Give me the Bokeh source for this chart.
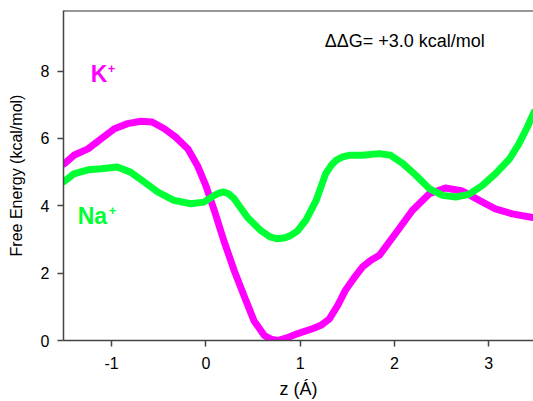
from bokeh.plotting import figure
from bokeh.models import Range1d, Span, Label, FixedTicker
from bokeh.embed import file_html
from bokeh.resources import INLINE

# K+ free energy profile (z in Angstrom, G in kcal/mol)
k_z = [-1.50, -1.40, -1.25, -1.11, -0.97, -0.83, -0.69, -0.57, -0.44, -0.32, -0.19, -0.09,
       0.00, 0.09, 0.19, 0.30, 0.41, 0.51, 0.62, 0.69, 0.76, 0.85, 0.95, 1.13, 1.22, 1.31,
       1.40, 1.48, 1.57, 1.66, 1.75, 1.84, 2.01, 2.19, 2.37, 2.54, 2.72, 2.90, 3.07, 3.25,
       3.45, 3.48]
k_g = [5.25, 5.50, 5.69, 5.99, 6.29, 6.44, 6.51, 6.49, 6.29, 6.04, 5.69, 5.20,
       4.60, 3.86, 2.97, 2.08, 1.29, 0.59, 0.15, 0.04, 0.00, 0.07, 0.18, 0.35, 0.45, 0.64,
       1.05, 1.49, 1.85, 2.18, 2.38, 2.53, 3.17, 3.86, 4.36, 4.53, 4.44, 4.16, 3.91, 3.76,
       3.66, 3.65]

# Na+ free energy profile
na_z = [-1.50, -1.40, -1.25, -1.11, -0.94, -0.80, -0.65, -0.51, -0.34, -0.16, -0.02, 0.09,
        0.14, 0.19, 0.24, 0.30, 0.44, 0.58, 0.68, 0.76, 0.84, 0.90, 0.97, 1.06, 1.17, 1.27,
        1.33, 1.38, 1.45, 1.52, 1.66, 1.84, 1.96, 2.09, 2.23, 2.37, 2.51, 2.65, 2.79, 2.93,
        3.07, 3.22, 3.32, 3.41, 3.48]
na_g = [4.73, 4.95, 5.07, 5.10, 5.15, 5.00, 4.70, 4.41, 4.16, 4.06, 4.11, 4.31,
        4.38, 4.41, 4.36, 4.21, 3.66, 3.27, 3.08, 3.02, 3.05, 3.12, 3.25, 3.57, 4.16, 4.95,
        5.20, 5.35, 5.45, 5.50, 5.50, 5.55, 5.50, 5.25, 4.90, 4.51, 4.31, 4.26, 4.34, 4.60,
        4.95, 5.39, 5.84, 6.34, 6.78]

x_ticks = [-1, 0, 1, 2, 3]
y_ticks = [0, 2, 4, 6, 8]

FONT = "Liberation Sans"

p = figure(width=533, height=401, output_backend="svg", toolbar_location=None,
           x_range=Range1d(-1.51, 3.475), y_range=Range1d(0, 9.8),
           min_border_left=63, min_border_right=0, min_border_top=10, min_border_bottom=61)

p.outline_line_color = None
p.xgrid.grid_line_color = None
p.ygrid.grid_line_color = None
p.background_fill_color = "white"
p.border_fill_color = "white"

p.line(k_z, k_g, line_color="#FF00FF", line_width=7, line_join="round", line_cap="round")
p.line(na_z, na_g, line_color="#00FF33", line_width=7, line_join="round", line_cap="round")

p.add_layout(Span(location=9.8, dimension="width", line_color="#333333", line_width=2))

for ax in (p.xaxis, p.yaxis):
    ax.axis_line_color = "#444444"
    ax.axis_line_width = 1.5
    ax.major_tick_line_color = "#444444"
    ax.major_tick_line_width = 1.5
    ax.major_tick_in = 0
    ax.major_tick_out = 6
    ax.minor_tick_line_color = None
    ax.major_label_text_font = FONT
    ax.major_label_text_font_size = "16px"
    ax.major_label_text_color = "black"
    ax.axis_label_text_font = FONT
    ax.axis_label_text_font_style = "normal"
    ax.axis_label_text_color = "black"

p.xaxis.ticker = FixedTicker(ticks=x_ticks)
p.yaxis.ticker = FixedTicker(ticks=y_ticks)
p.xaxis.major_label_overrides = {-1: "-1"}
p.xaxis.axis_label = "z (Á)"
p.yaxis.axis_label = "Free Energy (kcal/mol)"
p.xaxis.axis_label_text_font_size = "18px"
p.yaxis.axis_label_text_font_size = "16px"
p.xaxis.major_label_standoff = 10
p.xaxis.axis_label_standoff = 7
p.yaxis.major_label_standoff = 8
p.yaxis.axis_label_standoff = 13

p.add_layout(Label(x=-1.22, y=7.92, text="K", text_color="#FF00FF", text_font=FONT,
                   text_font_size="23px", text_font_style="bold", text_baseline="middle"))
p.add_layout(Label(x=-1.22, y=7.92, x_offset=17, y_offset=5, text="+", text_color="#FF00FF",
                   text_font=FONT, text_font_size="13px", text_font_style="bold",
                   text_baseline="middle"))
p.add_layout(Label(x=-1.36, y=3.71, text="Na", text_color="#00FF33", text_font=FONT,
                   text_font_size="23px", text_font_style="bold", text_baseline="middle"))
p.add_layout(Label(x=-1.36, y=3.71, x_offset=31, y_offset=5, text="+", text_color="#00FF33",
                   text_font=FONT, text_font_size="13px", text_font_style="bold",
                   text_baseline="middle"))
p.add_layout(Label(x=1.26, y=8.88, text="ΔΔG= +3.0 kcal/mol", text_color="black", text_font=FONT,
                   text_font_size="18px", text_baseline="middle"))

open("out.html", "w").write(file_html(p, INLINE))
